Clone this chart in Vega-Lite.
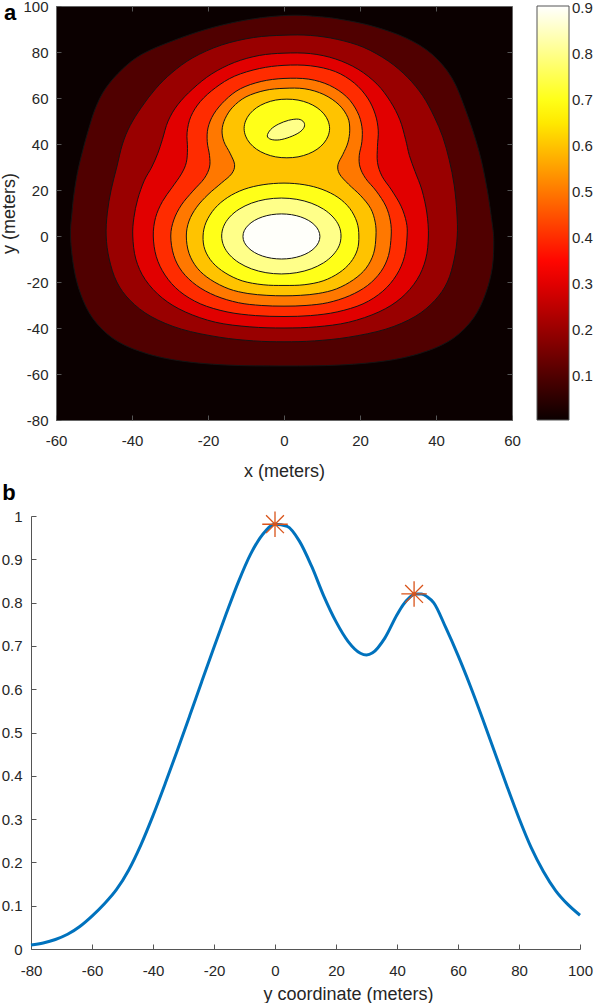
{
  "$schema": "https://vega.github.io/schema/vega-lite/v6.json",
  "padding": {"left": 0, "top": -2, "right": 0, "bottom": 0},
  "background": "white",
  "datasets": {
    "contours": [
      {"id":"c01","level":0.1,"i":0,"x":0,"y":-56.5},{"id":"c01","level":0.1,"i":1,"x":-15.3,"y":-56.1},{"id":"c01","level":0.1,"i":2,"x":-28.5,"y":-54},{"id":"c01","level":0.1,"i":3,"x":-38.2,"y":-50},{"id":"c01","level":0.1,"i":4,"x":-45.2,"y":-44.3},{"id":"c01","level":0.1,"i":5,"x":-50.4,"y":-35.6},{"id":"c01","level":0.1,"i":6,"x":-53.5,"y":-25.3},{"id":"c01","level":0.1,"i":7,"x":-55.3,"y":-13.9},{"id":"c01","level":0.1,"i":8,"x":-56.2,"y":0},{"id":"c01","level":0.1,"i":9,"x":-55.8,"y":10},{"id":"c01","level":0.1,"i":10,"x":-55.3,"y":18},{"id":"c01","level":0.1,"i":11,"x":-54.3,"y":28},{"id":"c01","level":0.1,"i":12,"x":-53,"y":37},{"id":"c01","level":0.1,"i":13,"x":-51.5,"y":46},{"id":"c01","level":0.1,"i":14,"x":-49.6,"y":55.7},{"id":"c01","level":0.1,"i":15,"x":-46.9,"y":64.3},{"id":"c01","level":0.1,"i":16,"x":-42.5,"y":72.6},{"id":"c01","level":0.1,"i":17,"x":-37.3,"y":79.1},{"id":"c01","level":0.1,"i":18,"x":-29.4,"y":84.8},{"id":"c01","level":0.1,"i":19,"x":-20.6,"y":89.8},{"id":"c01","level":0.1,"i":20,"x":-12,"y":93.3},{"id":"c01","level":0.1,"i":21,"x":-4,"y":95.3},{"id":"c01","level":0.1,"i":22,"x":3,"y":96},{"id":"c01","level":0.1,"i":23,"x":9,"y":95.4},{"id":"c01","level":0.1,"i":24,"x":14.5,"y":94.3},{"id":"c01","level":0.1,"i":25,"x":23.2,"y":91.3},{"id":"c01","level":0.1,"i":26,"x":32.1,"y":86.1},{"id":"c01","level":0.1,"i":27,"x":38.9,"y":79.1},{"id":"c01","level":0.1,"i":28,"x":44.2,"y":68.7},{"id":"c01","level":0.1,"i":29,"x":47.9,"y":54.3},{"id":"c01","level":0.1,"i":30,"x":51.3,"y":37},{"id":"c01","level":0.1,"i":31,"x":53.4,"y":20.9},{"id":"c01","level":0.1,"i":32,"x":54.7,"y":6.5},{"id":"c01","level":0.1,"i":33,"x":55.2,"y":-2},{"id":"c01","level":0.1,"i":34,"x":54.8,"y":-13.9},{"id":"c01","level":0.1,"i":35,"x":53,"y":-25.3},{"id":"c01","level":0.1,"i":36,"x":49.9,"y":-35.6},{"id":"c01","level":0.1,"i":37,"x":44.7,"y":-44.3},{"id":"c01","level":0.1,"i":38,"x":37.7,"y":-50},{"id":"c01","level":0.1,"i":39,"x":28,"y":-54},{"id":"c01","level":0.1,"i":40,"x":14.8,"y":-56.1},
      {"id":"c02","level":0.2,"i":0,"x":0,"y":-46},{"id":"c02","level":0.2,"i":1,"x":-8,"y":-45.6},{"id":"c02","level":0.2,"i":2,"x":-17,"y":-44},{"id":"c02","level":0.2,"i":3,"x":-27,"y":-40.5},{"id":"c02","level":0.2,"i":4,"x":-35,"y":-35},{"id":"c02","level":0.2,"i":5,"x":-40.5,"y":-28},{"id":"c02","level":0.2,"i":6,"x":-44,"y":-20},{"id":"c02","level":0.2,"i":7,"x":-46,"y":-10},{"id":"c02","level":0.2,"i":8,"x":-46.8,"y":0},{"id":"c02","level":0.2,"i":9,"x":-46.5,"y":10},{"id":"c02","level":0.2,"i":10,"x":-45.5,"y":20},{"id":"c02","level":0.2,"i":11,"x":-44,"y":30},{"id":"c02","level":0.2,"i":12,"x":-42.5,"y":40},{"id":"c02","level":0.2,"i":13,"x":-40.5,"y":48},{"id":"c02","level":0.2,"i":14,"x":-37.5,"y":56},{"id":"c02","level":0.2,"i":15,"x":-33.8,"y":64},{"id":"c02","level":0.2,"i":16,"x":-29.5,"y":71},{"id":"c02","level":0.2,"i":17,"x":-24,"y":77.5},{"id":"c02","level":0.2,"i":18,"x":-16.5,"y":83},{"id":"c02","level":0.2,"i":19,"x":-8,"y":86.3},{"id":"c02","level":0.2,"i":20,"x":0,"y":87.3},{"id":"c02","level":0.2,"i":21,"x":7,"y":87.2},{"id":"c02","level":0.2,"i":22,"x":14,"y":85.5},{"id":"c02","level":0.2,"i":23,"x":21,"y":82},{"id":"c02","level":0.2,"i":24,"x":27.5,"y":76},{"id":"c02","level":0.2,"i":25,"x":32.5,"y":69},{"id":"c02","level":0.2,"i":26,"x":36.5,"y":61},{"id":"c02","level":0.2,"i":27,"x":39.5,"y":52},{"id":"c02","level":0.2,"i":28,"x":41.8,"y":43},{"id":"c02","level":0.2,"i":29,"x":43.5,"y":33},{"id":"c02","level":0.2,"i":30,"x":44.8,"y":22},{"id":"c02","level":0.2,"i":31,"x":45.5,"y":10},{"id":"c02","level":0.2,"i":32,"x":45.6,"y":0},{"id":"c02","level":0.2,"i":33,"x":44.8,"y":-10},{"id":"c02","level":0.2,"i":34,"x":43,"y":-20},{"id":"c02","level":0.2,"i":35,"x":39.7,"y":-28},{"id":"c02","level":0.2,"i":36,"x":34.5,"y":-35},{"id":"c02","level":0.2,"i":37,"x":26.8,"y":-40.5},{"id":"c02","level":0.2,"i":38,"x":17,"y":-44},{"id":"c02","level":0.2,"i":39,"x":8,"y":-45.6},
      {"id":"c03","level":0.3,"i":0,"x":0,"y":-40},{"id":"c03","level":0.3,"i":1,"x":-9,"y":-39.5},{"id":"c03","level":0.3,"i":2,"x":-18,"y":-37.5},{"id":"c03","level":0.3,"i":3,"x":-26,"y":-33},{"id":"c03","level":0.3,"i":4,"x":-32,"y":-27},{"id":"c03","level":0.3,"i":5,"x":-36.5,"y":-19},{"id":"c03","level":0.3,"i":6,"x":-39,"y":-10},{"id":"c03","level":0.3,"i":7,"x":-39.8,"y":0},{"id":"c03","level":0.3,"i":8,"x":-39.5,"y":8},{"id":"c03","level":0.3,"i":9,"x":-38.5,"y":16},{"id":"c03","level":0.3,"i":10,"x":-36.8,"y":24},{"id":"c03","level":0.3,"i":11,"x":-34.8,"y":30},{"id":"c03","level":0.3,"i":12,"x":-33.2,"y":36},{"id":"c03","level":0.3,"i":13,"x":-32,"y":42},{"id":"c03","level":0.3,"i":14,"x":-30.5,"y":50},{"id":"c03","level":0.3,"i":15,"x":-28,"y":57},{"id":"c03","level":0.3,"i":16,"x":-24,"y":64},{"id":"c03","level":0.3,"i":17,"x":-19,"y":70.5},{"id":"c03","level":0.3,"i":18,"x":-13,"y":75.5},{"id":"c03","level":0.3,"i":19,"x":-6.5,"y":78.5},{"id":"c03","level":0.3,"i":20,"x":0,"y":79.5},{"id":"c03","level":0.3,"i":21,"x":7,"y":79.3},{"id":"c03","level":0.3,"i":22,"x":13.5,"y":77},{"id":"c03","level":0.3,"i":23,"x":19.5,"y":72.5},{"id":"c03","level":0.3,"i":24,"x":24.5,"y":66},{"id":"c03","level":0.3,"i":25,"x":28,"y":58.5},{"id":"c03","level":0.3,"i":26,"x":30.5,"y":50.5},{"id":"c03","level":0.3,"i":27,"x":32,"y":42},{"id":"c03","level":0.3,"i":28,"x":33,"y":35},{"id":"c03","level":0.3,"i":29,"x":34.5,"y":28},{"id":"c03","level":0.3,"i":30,"x":36.3,"y":20},{"id":"c03","level":0.3,"i":31,"x":37.6,"y":10},{"id":"c03","level":0.3,"i":32,"x":38,"y":0},{"id":"c03","level":0.3,"i":33,"x":37.3,"y":-10},{"id":"c03","level":0.3,"i":34,"x":35,"y":-19},{"id":"c03","level":0.3,"i":35,"x":30.8,"y":-27},{"id":"c03","level":0.3,"i":36,"x":25,"y":-33},{"id":"c03","level":0.3,"i":37,"x":17,"y":-37.5},{"id":"c03","level":0.3,"i":38,"x":8.5,"y":-39.5},
      {"id":"c04","level":0.4,"i":0,"x":0,"y":-35},{"id":"c04","level":0.4,"i":1,"x":-7.5,"y":-34.6},{"id":"c04","level":0.4,"i":2,"x":-15,"y":-33},{"id":"c04","level":0.4,"i":3,"x":-22,"y":-29.5},{"id":"c04","level":0.4,"i":4,"x":-27.5,"y":-24},{"id":"c04","level":0.4,"i":5,"x":-31.3,"y":-17},{"id":"c04","level":0.4,"i":6,"x":-33.6,"y":-9},{"id":"c04","level":0.4,"i":7,"x":-34.4,"y":0},{"id":"c04","level":0.4,"i":8,"x":-33.8,"y":8},{"id":"c04","level":0.4,"i":9,"x":-32,"y":15},{"id":"c04","level":0.4,"i":10,"x":-29.5,"y":21},{"id":"c04","level":0.4,"i":11,"x":-27,"y":27},{"id":"c04","level":0.4,"i":12,"x":-25.7,"y":32},{"id":"c04","level":0.4,"i":13,"x":-25.4,"y":38},{"id":"c04","level":0.4,"i":14,"x":-25.5,"y":45},{"id":"c04","level":0.4,"i":15,"x":-24.5,"y":52},{"id":"c04","level":0.4,"i":16,"x":-22,"y":58.5},{"id":"c04","level":0.4,"i":17,"x":-18,"y":64.5},{"id":"c04","level":0.4,"i":18,"x":-13,"y":69.5},{"id":"c04","level":0.4,"i":19,"x":-6.5,"y":72.8},{"id":"c04","level":0.4,"i":20,"x":0,"y":74.2},{"id":"c04","level":0.4,"i":21,"x":7,"y":74},{"id":"c04","level":0.4,"i":22,"x":13.5,"y":71.5},{"id":"c04","level":0.4,"i":23,"x":18.5,"y":66.5},{"id":"c04","level":0.4,"i":24,"x":22,"y":60},{"id":"c04","level":0.4,"i":25,"x":24,"y":53},{"id":"c04","level":0.4,"i":26,"x":24.8,"y":46},{"id":"c04","level":0.4,"i":27,"x":24.6,"y":39},{"id":"c04","level":0.4,"i":28,"x":24.6,"y":32},{"id":"c04","level":0.4,"i":29,"x":25.8,"y":26},{"id":"c04","level":0.4,"i":30,"x":28.3,"y":20},{"id":"c04","level":0.4,"i":31,"x":30.8,"y":13},{"id":"c04","level":0.4,"i":32,"x":32.2,"y":6},{"id":"c04","level":0.4,"i":33,"x":32.4,"y":0},{"id":"c04","level":0.4,"i":34,"x":31.7,"y":-9},{"id":"c04","level":0.4,"i":35,"x":29.6,"y":-17},{"id":"c04","level":0.4,"i":36,"x":26,"y":-24},{"id":"c04","level":0.4,"i":37,"x":20.8,"y":-29.5},{"id":"c04","level":0.4,"i":38,"x":14,"y":-33},{"id":"c04","level":0.4,"i":39,"x":7,"y":-34.6},
      {"id":"c05","level":0.5,"i":0,"x":0,"y":-30.5},{"id":"c05","level":0.5,"i":1,"x":-6,"y":-30.2},{"id":"c05","level":0.5,"i":2,"x":-12,"y":-29},{"id":"c05","level":0.5,"i":3,"x":-18,"y":-26},{"id":"c05","level":0.5,"i":4,"x":-23,"y":-21.5},{"id":"c05","level":0.5,"i":5,"x":-26.8,"y":-15.5},{"id":"c05","level":0.5,"i":6,"x":-29,"y":-8.5},{"id":"c05","level":0.5,"i":7,"x":-29.8,"y":0},{"id":"c05","level":0.5,"i":8,"x":-29,"y":7},{"id":"c05","level":0.5,"i":9,"x":-27,"y":13.5},{"id":"c05","level":0.5,"i":10,"x":-24,"y":19.5},{"id":"c05","level":0.5,"i":11,"x":-21,"y":25},{"id":"c05","level":0.5,"i":12,"x":-19.6,"y":30},{"id":"c05","level":0.5,"i":13,"x":-19.6,"y":35},{"id":"c05","level":0.5,"i":14,"x":-20.2,"y":41},{"id":"c05","level":0.5,"i":15,"x":-20,"y":47},{"id":"c05","level":0.5,"i":16,"x":-18.5,"y":53},{"id":"c05","level":0.5,"i":17,"x":-15.5,"y":59},{"id":"c05","level":0.5,"i":18,"x":-11.5,"y":64},{"id":"c05","level":0.5,"i":19,"x":-6,"y":67.2},{"id":"c05","level":0.5,"i":20,"x":0,"y":68.5},{"id":"c05","level":0.5,"i":21,"x":6.5,"y":68.2},{"id":"c05","level":0.5,"i":22,"x":12,"y":65.5},{"id":"c05","level":0.5,"i":23,"x":16.5,"y":60.5},{"id":"c05","level":0.5,"i":24,"x":19.3,"y":54},{"id":"c05","level":0.5,"i":25,"x":20.5,"y":47.5},{"id":"c05","level":0.5,"i":26,"x":20.5,"y":41},{"id":"c05","level":0.5,"i":27,"x":19.8,"y":35},{"id":"c05","level":0.5,"i":28,"x":20,"y":30},{"id":"c05","level":0.5,"i":29,"x":21.5,"y":25},{"id":"c05","level":0.5,"i":30,"x":24.3,"y":19.5},{"id":"c05","level":0.5,"i":31,"x":26.8,"y":13},{"id":"c05","level":0.5,"i":32,"x":28,"y":6.5},{"id":"c05","level":0.5,"i":33,"x":28.2,"y":0},{"id":"c05","level":0.5,"i":34,"x":27.5,"y":-8.5},{"id":"c05","level":0.5,"i":35,"x":25.5,"y":-15.5},{"id":"c05","level":0.5,"i":36,"x":22,"y":-21.5},{"id":"c05","level":0.5,"i":37,"x":17.2,"y":-26},{"id":"c05","level":0.5,"i":38,"x":11.5,"y":-29},{"id":"c05","level":0.5,"i":39,"x":5.8,"y":-30.2},
      {"id":"c06","level":0.6,"i":0,"x":0,"y":-26},{"id":"c06","level":0.6,"i":1,"x":-4.5,"y":-25.8},{"id":"c06","level":0.6,"i":2,"x":-9.5,"y":-25},{"id":"c06","level":0.6,"i":3,"x":-14.5,"y":-23},{"id":"c06","level":0.6,"i":4,"x":-19.3,"y":-19},{"id":"c06","level":0.6,"i":5,"x":-22.8,"y":-14},{"id":"c06","level":0.6,"i":6,"x":-25,"y":-7.5},{"id":"c06","level":0.6,"i":7,"x":-25.7,"y":0},{"id":"c06","level":0.6,"i":8,"x":-25,"y":6.5},{"id":"c06","level":0.6,"i":9,"x":-23,"y":12.5},{"id":"c06","level":0.6,"i":10,"x":-20,"y":18},{"id":"c06","level":0.6,"i":11,"x":-16.5,"y":23},{"id":"c06","level":0.6,"i":12,"x":-13.8,"y":27},{"id":"c06","level":0.6,"i":13,"x":-13,"y":31},{"id":"c06","level":0.6,"i":14,"x":-14.2,"y":36},{"id":"c06","level":0.6,"i":15,"x":-15.8,"y":41},{"id":"c06","level":0.6,"i":16,"x":-16.3,"y":46},{"id":"c06","level":0.6,"i":17,"x":-15.5,"y":51},{"id":"c06","level":0.6,"i":18,"x":-13.5,"y":56},{"id":"c06","level":0.6,"i":19,"x":-10,"y":60.5},{"id":"c06","level":0.6,"i":20,"x":-5,"y":63.3},{"id":"c06","level":0.6,"i":21,"x":0,"y":64.2},{"id":"c06","level":0.6,"i":22,"x":5.5,"y":64},{"id":"c06","level":0.6,"i":23,"x":10.5,"y":61.5},{"id":"c06","level":0.6,"i":24,"x":14.5,"y":57},{"id":"c06","level":0.6,"i":25,"x":16.8,"y":51.5},{"id":"c06","level":0.6,"i":26,"x":17.3,"y":46},{"id":"c06","level":0.6,"i":27,"x":16.8,"y":40.5},{"id":"c06","level":0.6,"i":28,"x":15.5,"y":35.5},{"id":"c06","level":0.6,"i":29,"x":14.2,"y":31},{"id":"c06","level":0.6,"i":30,"x":14.6,"y":27},{"id":"c06","level":0.6,"i":31,"x":17,"y":22.5},{"id":"c06","level":0.6,"i":32,"x":20.2,"y":17.5},{"id":"c06","level":0.6,"i":33,"x":22.8,"y":12},{"id":"c06","level":0.6,"i":34,"x":24,"y":6},{"id":"c06","level":0.6,"i":35,"x":24.2,"y":0},{"id":"c06","level":0.6,"i":36,"x":23.6,"y":-7.5},{"id":"c06","level":0.6,"i":37,"x":21.6,"y":-14},{"id":"c06","level":0.6,"i":38,"x":18.3,"y":-19},{"id":"c06","level":0.6,"i":39,"x":13.8,"y":-23},{"id":"c06","level":0.6,"i":40,"x":9,"y":-25},{"id":"c06","level":0.6,"i":41,"x":4.3,"y":-25.8},
      {"id":"c07a","level":0.7,"i":0,"x":0,"y":23},{"id":"c07a","level":0.7,"i":1,"x":-5.5,"y":22.3},{"id":"c07a","level":0.7,"i":2,"x":-10.5,"y":20.3},{"id":"c07a","level":0.7,"i":3,"x":-14.8,"y":16.8},{"id":"c07a","level":0.7,"i":4,"x":-18.2,"y":12},{"id":"c07a","level":0.7,"i":5,"x":-20.5,"y":6},{"id":"c07a","level":0.7,"i":6,"x":-21.3,"y":0},{"id":"c07a","level":0.7,"i":7,"x":-20.8,"y":-6},{"id":"c07a","level":0.7,"i":8,"x":-18.8,"y":-11.5},{"id":"c07a","level":0.7,"i":9,"x":-15.5,"y":-16},{"id":"c07a","level":0.7,"i":10,"x":-11,"y":-19.5},{"id":"c07a","level":0.7,"i":11,"x":-5.5,"y":-21.2},{"id":"c07a","level":0.7,"i":12,"x":0,"y":-21.5},{"id":"c07a","level":0.7,"i":13,"x":5.3,"y":-21.2},{"id":"c07a","level":0.7,"i":14,"x":10.3,"y":-19.5},{"id":"c07a","level":0.7,"i":15,"x":14.5,"y":-16},{"id":"c07a","level":0.7,"i":16,"x":17.5,"y":-11.5},{"id":"c07a","level":0.7,"i":17,"x":19.3,"y":-6},{"id":"c07a","level":0.7,"i":18,"x":19.7,"y":0},{"id":"c07a","level":0.7,"i":19,"x":19.2,"y":6},{"id":"c07a","level":0.7,"i":20,"x":17.3,"y":12},{"id":"c07a","level":0.7,"i":21,"x":14.2,"y":16.8},{"id":"c07a","level":0.7,"i":22,"x":10,"y":20.3},{"id":"c07a","level":0.7,"i":23,"x":5.3,"y":22.3},
      {"id":"c07b","level":0.7,"i":0,"x":12,"y":46.75},{"id":"c07b","level":0.7,"i":1,"x":11.6,"y":50.05},{"id":"c07b","level":0.7,"i":2,"x":10.5,"y":53.1},{"id":"c07b","level":0.7,"i":3,"x":8.7,"y":55.8},{"id":"c07b","level":0.7,"i":4,"x":6.4,"y":57.8},{"id":"c07b","level":0.7,"i":5,"x":3.7,"y":59.1},{"id":"c07b","level":0.7,"i":6,"x":0.75,"y":59.5},{"id":"c07b","level":0.7,"i":7,"x":-2.2,"y":59.1},{"id":"c07b","level":0.7,"i":8,"x":-4.9,"y":57.8},{"id":"c07b","level":0.7,"i":9,"x":-7.2,"y":55.8},{"id":"c07b","level":0.7,"i":10,"x":-9,"y":53.1},{"id":"c07b","level":0.7,"i":11,"x":-10.1,"y":50.05},{"id":"c07b","level":0.7,"i":12,"x":-10.5,"y":46.75},{"id":"c07b","level":0.7,"i":13,"x":-10.1,"y":43.45},{"id":"c07b","level":0.7,"i":14,"x":-9,"y":40.4},{"id":"c07b","level":0.7,"i":15,"x":-7.2,"y":37.7},{"id":"c07b","level":0.7,"i":16,"x":-4.9,"y":35.7},{"id":"c07b","level":0.7,"i":17,"x":-2.2,"y":34.4},{"id":"c07b","level":0.7,"i":18,"x":0.75,"y":34},{"id":"c07b","level":0.7,"i":19,"x":3.7,"y":34.4},{"id":"c07b","level":0.7,"i":20,"x":6.4,"y":35.7},{"id":"c07b","level":0.7,"i":21,"x":8.7,"y":37.7},{"id":"c07b","level":0.7,"i":22,"x":10.5,"y":40.4},{"id":"c07b","level":0.7,"i":23,"x":11.6,"y":43.45},
      {"id":"c08a","level":0.8,"i":0,"x":15,"y":0},{"id":"c08a","level":0.8,"i":1,"x":14.5,"y":4.27},{"id":"c08a","level":0.8,"i":2,"x":12.9,"y":8.25},{"id":"c08a","level":0.8,"i":3,"x":10.4,"y":11.67},{"id":"c08a","level":0.8,"i":4,"x":7.15,"y":14.29},{"id":"c08a","level":0.8,"i":5,"x":3.37,"y":15.94},{"id":"c08a","level":0.8,"i":6,"x":-0.7,"y":16.5},{"id":"c08a","level":0.8,"i":7,"x":-4.77,"y":15.94},{"id":"c08a","level":0.8,"i":8,"x":-8.55,"y":14.29},{"id":"c08a","level":0.8,"i":9,"x":-11.8,"y":11.67},{"id":"c08a","level":0.8,"i":10,"x":-14.3,"y":8.25},{"id":"c08a","level":0.8,"i":11,"x":-15.87,"y":4.27},{"id":"c08a","level":0.8,"i":12,"x":-16.4,"y":0},{"id":"c08a","level":0.8,"i":13,"x":-15.87,"y":-4.27},{"id":"c08a","level":0.8,"i":14,"x":-14.3,"y":-8.25},{"id":"c08a","level":0.8,"i":15,"x":-11.8,"y":-11.67},{"id":"c08a","level":0.8,"i":16,"x":-8.55,"y":-14.29},{"id":"c08a","level":0.8,"i":17,"x":-4.77,"y":-15.94},{"id":"c08a","level":0.8,"i":18,"x":-0.7,"y":-16.5},{"id":"c08a","level":0.8,"i":19,"x":3.37,"y":-15.94},{"id":"c08a","level":0.8,"i":20,"x":7.15,"y":-14.29},{"id":"c08a","level":0.8,"i":21,"x":10.4,"y":-11.67},{"id":"c08a","level":0.8,"i":22,"x":12.9,"y":-8.25},{"id":"c08a","level":0.8,"i":23,"x":14.5,"y":-4.27},
      {"id":"c08b","level":0.8,"i":0,"x":-4.4,"y":43.5},{"id":"c08b","level":0.8,"i":1,"x":-3.5,"y":46.3},{"id":"c08b","level":0.8,"i":2,"x":-1.5,"y":48.6},{"id":"c08b","level":0.8,"i":3,"x":1.2,"y":50.3},{"id":"c08b","level":0.8,"i":4,"x":3.8,"y":50.8},{"id":"c08b","level":0.8,"i":5,"x":5.2,"y":49.5},{"id":"c08b","level":0.8,"i":6,"x":5.3,"y":47.3},{"id":"c08b","level":0.8,"i":7,"x":4,"y":45},{"id":"c08b","level":0.8,"i":8,"x":1.5,"y":43},{"id":"c08b","level":0.8,"i":9,"x":-1.2,"y":41.8},{"id":"c08b","level":0.8,"i":10,"x":-3.4,"y":42},
      {"id":"c09","level":0.9,"i":0,"x":9.45,"y":-0.2},{"id":"c09","level":0.9,"i":1,"x":9.1,"y":2.34},{"id":"c09","level":0.9,"i":2,"x":8.1,"y":4.7},{"id":"c09","level":0.9,"i":3,"x":6.5,"y":6.73},{"id":"c09","level":0.9,"i":4,"x":4.4,"y":8.29},{"id":"c09","level":0.9,"i":5,"x":1.98,"y":9.27},{"id":"c09","level":0.9,"i":6,"x":-0.65,"y":9.6},{"id":"c09","level":0.9,"i":7,"x":-3.28,"y":9.27},{"id":"c09","level":0.9,"i":8,"x":-5.7,"y":8.29},{"id":"c09","level":0.9,"i":9,"x":-7.8,"y":6.73},{"id":"c09","level":0.9,"i":10,"x":-9.4,"y":4.7},{"id":"c09","level":0.9,"i":11,"x":-10.45,"y":2.34},{"id":"c09","level":0.9,"i":12,"x":-10.8,"y":-0.2},{"id":"c09","level":0.9,"i":13,"x":-10.45,"y":-2.74},{"id":"c09","level":0.9,"i":14,"x":-9.4,"y":-5.1},{"id":"c09","level":0.9,"i":15,"x":-7.8,"y":-7.13},{"id":"c09","level":0.9,"i":16,"x":-5.7,"y":-8.69},{"id":"c09","level":0.9,"i":17,"x":-3.28,"y":-9.67},{"id":"c09","level":0.9,"i":18,"x":-0.65,"y":-10},{"id":"c09","level":0.9,"i":19,"x":1.98,"y":-9.67},{"id":"c09","level":0.9,"i":20,"x":4.4,"y":-8.69},{"id":"c09","level":0.9,"i":21,"x":6.5,"y":-7.13},{"id":"c09","level":0.9,"i":22,"x":8.1,"y":-5.1},{"id":"c09","level":0.9,"i":23,"x":9.1,"y":-2.74}
    ],
    "profile": [
      {"pos":-80,"val":0.009},{"pos":-76,"val":0.014},{"pos":-72,"val":0.022},{"pos":-68,"val":0.034},{"pos":-64,"val":0.052},{"pos":-60,"val":0.076},{"pos":-56,"val":0.104},{"pos":-52,"val":0.137},{"pos":-48,"val":0.182},{"pos":-44,"val":0.24},{"pos":-40,"val":0.308},{"pos":-36,"val":0.382},{"pos":-32,"val":0.459},{"pos":-28,"val":0.538},{"pos":-24,"val":0.618},{"pos":-20,"val":0.697},{"pos":-16,"val":0.774},{"pos":-12,"val":0.848},{"pos":-8,"val":0.912},{"pos":-4,"val":0.958},{"pos":0,"val":0.981},{"pos":4,"val":0.976},{"pos":8,"val":0.942},{"pos":12,"val":0.884},{"pos":16,"val":0.815},{"pos":20,"val":0.756},{"pos":24,"val":0.71},{"pos":28,"val":0.683},{"pos":30,"val":0.679},{"pos":32,"val":0.684},{"pos":36,"val":0.718},{"pos":40,"val":0.772},{"pos":42,"val":0.795},{"pos":44,"val":0.811},{"pos":46,"val":0.82},{"pos":48,"val":0.82},{"pos":50,"val":0.813},{"pos":52,"val":0.8},{"pos":56,"val":0.742},{"pos":60,"val":0.678},{"pos":64,"val":0.608},{"pos":68,"val":0.533},{"pos":72,"val":0.455},{"pos":76,"val":0.377},{"pos":80,"val":0.302},{"pos":84,"val":0.234},{"pos":88,"val":0.179},{"pos":92,"val":0.135},{"pos":96,"val":0.103},{"pos":100,"val":0.078}
    ],
    "peaks": [
      {"pos":0,"val":0.981},{"pos":45.6,"val":0.82}
    ]
  },
  "vconcat": [
    {
      "hconcat": [
        {
          "width": 1,
          "height": 1,
          "data": {"values": []},
          "mark": {"type": "point", "opacity": 0}
        },
        {
          "width": 456,
          "height": 414,
          "title": {"text": "a", "anchor": "start", "frame": "bounds", "baseline": "alphabetic", "offset": 0, "dx": 3, "dy": 43, "fontSize": 22, "fontWeight": "bold"},
          "view": {"fill": "#0b0000", "stroke": "#666666", "strokeWidth": 1},
          "data": {"name": "contours"},
          "layer": [
            {
              "mark": {"type": "line", "interpolate": "cardinal-closed", "filled": true, "stroke": "#141414", "strokeWidth": 1, "clip": true},
              "encoding": {
                "x": {"field": "x", "type": "quantitative", "scale": {"domain": [-60, 60], "nice": false, "zero": false},
                      "axis": {"values": [-60, -40, -20, 0, 20, 40, 60], "title": "x (meters)", "labelExpr": "'' + datum.value", "tickSize": -5, "labelPadding": 18, "titlePadding": 14, "domain": false}},
                "y": {"field": "y", "type": "quantitative", "scale": {"domain": [-80, 100], "nice": false, "zero": false},
                      "axis": {"values": [-80, -60, -40, -20, 0, 20, 40, 60, 80, 100], "title": "y (meters)", "labelExpr": "'' + datum.value", "tickSize": -5, "labelPadding": 13, "titlePadding": 4, "domain": false}},
                "detail": {"field": "id"},
                "order": {"field": "i"},
                "fill": {"field": "level", "type": "quantitative",
                         "scale": {"domain": [0.004, 0.3415, 0.679, 0.904], "range": ["#0b0000", "#ff0000", "#ffff00", "#ffffff"], "interpolate": "rgb"},
                         "legend": {"title": null, "orient": "right", "offset": 24, "padding": 0, "direction": "vertical", "gradientLength": 414, "gradientThickness": 32, "values": [0.1, 0.2, 0.3, 0.4, 0.5, 0.6, 0.7, 0.8, 0.9], "labelExpr": "'' + datum.value", "labelOffset": 3, "gradientStrokeColor": "#555555", "gradientStrokeWidth": 1}}
              }
            },
            {
              "mark": {"type": "line", "opacity": 0},
              "encoding": {
                "x": {"field": "x", "type": "quantitative",
                      "axis": {"orient": "top", "values": [-40, -20, 0, 20, 40], "labels": false, "title": null, "domain": false, "tickSize": -5}},
                "y": {"field": "y", "type": "quantitative",
                      "axis": {"orient": "right", "values": [-60, -40, -20, 0, 20, 40, 60, 80], "labels": false, "title": null, "domain": false, "tickSize": -5}},
                "detail": {"field": "id"},
                "order": {"field": "i"}
              }
            }
          ],
          "resolve": {"axis": {"x": "independent", "y": "independent"}}
        }
      ],
      "spacing": 24,
      "bounds": "flush",
      "align": "none",
      "resolve": {"scale": {"fill": "independent"}, "legend": {"fill": "independent"}}
    },
    {
      "width": 549,
      "height": 433,
      "title": {"text": "b", "anchor": "start", "frame": "bounds", "baseline": "alphabetic", "offset": 0, "dx": 1, "dy": 13, "fontSize": 22, "fontWeight": "bold"},
      "layer": [
        {
          "data": {"name": "profile"},
          "mark": {"type": "line", "color": "#0072BD", "strokeWidth": 3, "interpolate": "monotone"},
          "encoding": {
            "x": {"field": "pos", "type": "quantitative", "scale": {"domain": [-80, 100], "nice": false, "zero": false},
                  "axis": {"values": [-80, -60, -40, -20, 0, 20, 40, 60, 80, 100], "title": "y coordinate (meters)", "labelExpr": "'' + datum.value", "tickSize": -5, "labelPadding": 19, "titlePadding": 7, "titleX": 317}},
            "y": {"field": "val", "type": "quantitative", "scale": {"domain": [0, 1], "nice": false, "zero": false},
                  "axis": {"values": [0, 0.1, 0.2, 0.3, 0.4, 0.5, 0.6, 0.7, 0.8, 0.9, 1], "title": null, "labelExpr": "'' + datum.value", "tickSize": -5, "labelPadding": 14}}
          }
        },
        {
          "data": {"name": "peaks"},
          "mark": {"type": "point", "shape": "M-1,0L1,0M0,-1L0,1M-0.7,-0.7L0.7,0.7M-0.7,0.7L0.7,-0.7", "size": 650, "filled": false, "color": "#D95319", "strokeWidth": 1.3, "opacity": 1},
          "encoding": {
            "x": {"field": "pos", "type": "quantitative"},
            "y": {"field": "val", "type": "quantitative"}
          }
        }
      ]
    }
  ],
  "spacing": 0,
  "align": "each",
  "resolve": {"scale": {"fill": "independent"}, "legend": {"fill": "independent"}},
  "config": {
    "font": "Liberation Sans",
    "view": {"stroke": null},
    "axis": {"labelFontSize": 15, "titleFontSize": 18, "titleFontWeight": "normal", "labelColor": "#262626", "titleColor": "#262626", "domainColor": "#555555", "tickColor": "#555555", "grid": false, "labelFlush": false, "labelOverlap": false},
    "legend": {"labelFontSize": 15, "labelColor": "#262626"},
    "title": {"color": "#000000", "font": "Liberation Sans"}
  }
}
